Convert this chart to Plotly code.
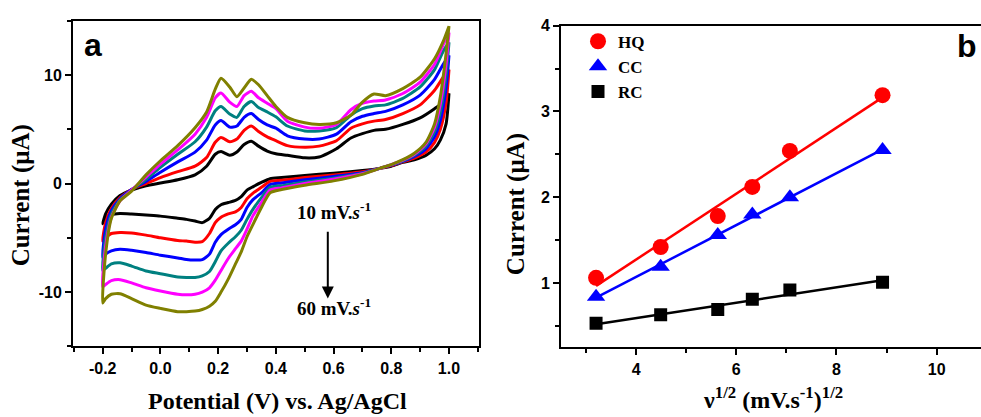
import numpy as np
import plotly.graph_objects as go

# ---------------- Panel a : cyclic voltammograms ----------------
scan_labels = ["10 mV/s", "20 mV/s", "30 mV/s", "40 mV/s", "50 mV/s", "60 mV/s"]
cv_colors = ["#000000", "#FF0000", "#0000FF", "#008080", "#FF00FF", "#808000"]

# forward (anodic) potential grid, V
v_fwd = [-0.2, -0.19, -0.17, -0.14, -0.1, -0.05, 0.0, 0.06, 0.12, 0.16, 0.19, 0.21,
         0.24, 0.265, 0.29, 0.315, 0.34, 0.37, 0.40, 0.44, 0.50, 0.55, 0.61, 0.66,
         0.70, 0.74, 0.78, 0.84, 0.90, 0.95, 0.98, 1.0]
# reverse (cathodic) potential grid, V
v_rev = [1.0, 0.99, 0.97, 0.95, 0.92, 0.88, 0.84, 0.80, 0.76, 0.70, 0.60, 0.50, 0.42,
         0.38, 0.35, 0.32, 0.30, 0.28, 0.26, 0.235, 0.21, 0.19, 0.17, 0.145, 0.12,
         0.09, 0.06, 0.0, -0.05, -0.1, -0.14, -0.17, -0.19, -0.2]

i_fwd_10 = [-3.7, -2.8, -1.9, -1.1, -0.6, -0.2, 0.05, 0.35, 0.8, 1.6, 2.7, 2.95,
            2.6, 2.9, 3.6, 3.9, 3.45, 3.0, 2.75, 2.6, 2.37, 2.45, 3.2, 4.2,
            4.6, 4.9, 5.0, 5.45, 6.05, 6.9, 7.5, 8.3]
i_fwd_20 = [-5.3, -3.6, -2.3, -1.3, -0.55, 0.0, 0.55, 1.1, 1.6, 2.4, 3.8, 4.25,
            3.85, 4.1, 4.9, 5.3, 4.8, 4.3, 3.95, 3.5, 3.35, 3.45, 3.95, 5.1,
            5.5, 5.75, 5.9, 6.45, 7.25, 8.6, 9.8, 10.5]
i_fwd_30 = [-6.8, -4.2, -2.5, -1.4, -0.55, 0.2, 1.05, 2.0, 2.9, 4.0, 5.4, 5.8,
            5.2, 5.3, 6.1, 6.45, 5.9, 5.4, 5.1, 4.4, 4.1, 4.1, 4.55, 5.7,
            6.2, 6.45, 6.65, 7.25, 8.15, 9.6, 11.0, 11.8]
i_fwd_40 = [-8.0, -5.0, -2.8, -1.5, -0.6, 0.4, 1.5, 2.7, 3.85, 5.2, 6.7, 7.1,
            6.4, 6.1, 7.1, 7.55, 7.0, 6.6, 6.15, 5.3, 4.85, 4.85, 5.15, 6.3,
            6.9, 7.15, 7.25, 7.85, 8.9, 10.5, 12.2, 13.0]
i_fwd_50 = [-9.5, -5.8, -3.1, -1.6, -0.6, 0.6, 1.8, 3.1, 4.55, 6.1, 7.9, 8.35,
            7.5, 7.1, 8.1, 8.5, 7.9, 7.4, 6.9, 5.75, 5.2, 5.1, 5.45, 6.8,
            7.4, 7.6, 7.7, 8.3, 9.35, 11.0, 12.8, 13.9]
i_fwd_60 = [-11.0, -6.5, -3.2, -1.6, -0.7, 0.8, 2.1, 3.5, 5.15, 6.6, 8.7, 9.7,
            8.9, 8.0, 8.8, 9.6, 9.1, 8.1, 7.1, 6.1, 5.6, 5.45, 5.6, 6.3,
            7.5, 8.25, 8.1, 8.75, 9.8, 11.5, 13.1, 14.5]

i_rev_10 = [8.3, 5.5, 4.0, 3.2, 2.6, 2.2, 1.95, 1.6, 1.4, 1.2, 0.95, 0.75, 0.55,
            0.45, 0.1, -0.3, -0.6, -1.2, -1.55, -1.75, -1.95, -2.4, -3.2, -3.6, -3.45,
            -3.3, -3.2, -3.0, -2.9, -2.8, -2.75, -2.85, -3.2, -3.7]
i_rev_20 = [10.5, 7.5, 5.0, 3.8, 2.9, 2.35, 2.0, 1.65, 1.4, 1.1, 0.8, 0.55, 0.3,
            0.2, -0.35, -0.9, -1.4, -2.2, -2.6, -2.8, -3.1, -3.6, -4.6, -5.35, -5.4,
            -5.3, -5.25, -5.0, -4.75, -4.55, -4.5, -4.6, -5.0, -5.3]
i_rev_30 = [11.8, 8.8, 5.8, 4.3, 3.2, 2.5, 2.05, 1.7, 1.4, 1.0, 0.65, 0.35, 0.05,
            -0.1, -0.85, -1.5, -2.2, -3.3, -3.8, -4.2, -4.7, -5.4, -6.5, -7.0, -7.05,
            -7.0, -6.85, -6.6, -6.35, -6.15, -6.05, -6.2, -6.5, -6.8]
i_rev_40 = [13.0, 10.0, 6.6, 4.8, 3.45, 2.6, 2.1, 1.72, 1.4, 0.95, 0.5, 0.15, -0.2,
            -0.35, -1.3, -2.4, -3.3, -4.3, -4.9, -5.5, -6.2, -7.2, -8.1, -8.5, -8.65,
            -8.65, -8.6, -8.3, -8.05, -7.6, -7.3, -7.4, -7.8, -8.0]
i_rev_50 = [13.9, 11.0, 7.3, 5.2, 3.65, 2.7, 2.15, 1.74, 1.4, 0.9, 0.4, 0.0, -0.4,
            -0.6, -1.75, -3.0, -4.2, -5.3, -6.0, -6.9, -8.0, -8.9, -9.6, -10.0, -10.2,
            -10.25, -10.2, -9.9, -9.6, -9.15, -8.85, -8.95, -9.3, -9.5]
i_rev_60 = [14.5, 12.0, 8.0, 5.5, 3.8, 2.8, 2.2, 1.75, 1.4, 0.85, 0.25, -0.15, -0.55,
            -0.85, -2.2, -3.8, -4.9, -6.3, -7.4, -8.8, -10.0, -10.85, -11.3, -11.6, -11.75,
            -11.8, -11.8, -11.5, -11.2, -10.6, -10.15, -10.2, -10.6, -11.0]

i_fwd_all = [i_fwd_10, i_fwd_20, i_fwd_30, i_fwd_40, i_fwd_50, i_fwd_60]
i_rev_all = [i_rev_10, i_rev_20, i_rev_30, i_rev_40, i_rev_50, i_rev_60]

a_xticks = [-0.2, 0.0, 0.2, 0.4, 0.6, 0.8, 1.0]
a_xticktext = ["-0.2", "0.0", "0.2", "0.4", "0.6", "0.8", "1.0"]
a_yticks = [-10, 0, 10]
a_yticktext = ["-10", "0", "10"]

# ---------------- Panel b : peak current vs sqrt(scan rate) ----------------
sqrt_rate = [3.2, 4.49, 5.63, 6.32, 7.07, 8.92]
hq_current = [1.06, 1.42, 1.78, 2.12, 2.54, 3.19]
cc_current = [0.84, 1.19, 1.56, 1.80, 2.00, 2.55]
rc_current = [0.53, 0.63, 0.69, 0.81, 0.92, 1.01]
b_xticks = [4, 6, 8, 10]
b_yticks = [1, 2, 3, 4]

SERIF = "Liberation Serif"
SANS = "Liberation Sans"

fig = go.Figure()

for lab, col, fw, rv in zip(scan_labels, cv_colors, i_fwd_all, i_rev_all):
    fig.add_trace(go.Scatter(
        x=v_fwd + v_rev, y=fw + rv, mode="lines", name=lab,
        line=dict(color=col, width=3, shape="spline", smoothing=0.6),
        showlegend=False, xaxis="x", yaxis="y"))

series_b = [
    ("HQ", hq_current, "#FF0000", "circle", 16),
    ("CC", cc_current, "#0000FF", "triangle-up", 16),
    ("RC", rc_current, "#000000", "square", 13),
]
xs = np.array(sqrt_rate)
for name, vals, col, sym, sz in series_b:
    k, c = np.polyfit(xs, np.array(vals), 1)
    xl = np.array([xs.min(), xs.max()])
    fig.add_trace(go.Scatter(
        x=xl, y=k * xl + c, mode="lines", line=dict(color=col, width=2.5),
        showlegend=False, xaxis="x2", yaxis="y2", hoverinfo="skip"))
for name, vals, col, sym, sz in series_b:
    fig.add_trace(go.Scatter(
        x=sqrt_rate, y=vals, mode="markers", name=name,
        marker=dict(color=col, symbol=sym, size=sz, line=dict(width=0)),
        xaxis="x2", yaxis="y2"))

W, H = 981, 417
def px_x(p):
    return p / W
def px_y(p):
    return 1 - p / H

axis_common = dict(
    showline=True, linecolor="black", linewidth=2, ticks="outside",
    ticklen=6, tickwidth=2, tickcolor="black", showgrid=False, zeroline=False,
    tickfont=dict(family=SANS, size=16, color="black", weight="bold"),
)

fig.update_layout(
    width=W, height=H, margin=dict(l=0, r=0, t=0, b=0),
    paper_bgcolor="white", plot_bgcolor="white",
    xaxis=dict(domain=[px_x(73), px_x(479)], range=[-0.303, 1.104], anchor="y",
               tickvals=a_xticks, ticktext=a_xticktext, mirror=True,
               minor=dict(tickvals=[-0.3, -0.1, 0.1, 0.3, 0.5, 0.7, 0.9, 1.1],
                          ticklen=4, tickwidth=2, ticks="outside", tickcolor="black"),
               **axis_common),
    yaxis=dict(domain=[px_y(345), px_y(13)], range=[-15, 15], anchor="x",
               tickvals=a_yticks, ticktext=a_yticktext, mirror=True,
               minor=dict(tickvals=[-15, -5, 5, 15], ticklen=4, tickwidth=2,
                          ticks="outside", tickcolor="black"),
               **axis_common),
    xaxis2=dict(domain=[px_x(561), 1.0], range=[2.5, 10.886], anchor="y2",
                tickvals=b_xticks, mirror=True,
                minor=dict(tickvals=[3, 5, 7, 9], ticklen=4, tickwidth=2,
                           ticks="outside", tickcolor="black"),
                **axis_common),
    yaxis2=dict(domain=[px_y(346), px_y(18)], range=[0.25, 4.0], anchor="x2",
                tickvals=b_yticks,
                minor=dict(tickvals=[0.5, 1.5, 2.5, 3.5], ticklen=4, tickwidth=2,
                           ticks="outside", tickcolor="black"),
                **axis_common),
    legend=dict(x=px_x(578), y=px_y(16), xanchor="left", yanchor="top",
                bgcolor="rgba(0,0,0,0)", borderwidth=0, tracegroupgap=0,
                font=dict(family=SERIF, size=17, color="black", weight="bold")),
)

ann = []
# axis titles
ann.append(dict(text="Current (μA)", x=px_x(21), y=px_y(191), textangle=-90,
                font=dict(family=SERIF, size=25, color="black", weight="bold")))
ann.append(dict(text="Potential (V) vs. Ag/AgCl", x=px_x(277), y=px_y(401),
                font=dict(family=SERIF, size=24, color="black", weight="bold")))
ann.append(dict(text="Current (μA)", x=px_x(516), y=px_y(200), textangle=-90,
                font=dict(family=SERIF, size=25, color="black", weight="bold")))
ann.append(dict(text="ν<sup>1/2</sup> (mV.s<sup>-1</sup>)<sup>1/2</sup>",
                x=px_x(773), y=px_y(398),
                font=dict(family=SERIF, size=24, color="black", weight="bold")))
# panel letters
ann.append(dict(text="a", x=px_x(93), y=px_y(38),
                font=dict(family=SANS, size=32, color="black", weight="bold")))
ann.append(dict(text="b", x=px_x(967), y=px_y(39),
                font=dict(family=SANS, size=32, color="black", weight="bold")))
# scan-rate labels
ann.append(dict(text="10 mV.<i>s</i><sup>-1</sup>", x=px_x(334), y=px_y(207),
                font=dict(family=SERIF, size=19, color="black", weight="bold")))
ann.append(dict(text="60 mV.<i>s</i><sup>-1</sup>", x=px_x(334), y=px_y(305),
                font=dict(family=SERIF, size=19, color="black", weight="bold")))
for a in ann:
    a.update(xref="paper", yref="paper", showarrow=False,
             xanchor="center", yanchor="middle")
fig.update_layout(annotations=ann)
fig.add_annotation(x=0.58, y=-10.6, ax=0.58, ay=-4.3, xref="x", yref="y",
                   axref="x", ayref="y", text="", showarrow=True,
                   arrowhead=2, arrowsize=1.2, arrowwidth=2, arrowcolor="black")

fig.write_html("out.html", config={"displayModeBar": False},
               post_script="document.body.style.margin='0px';"
                           "document.body.style.overflow='hidden';")
